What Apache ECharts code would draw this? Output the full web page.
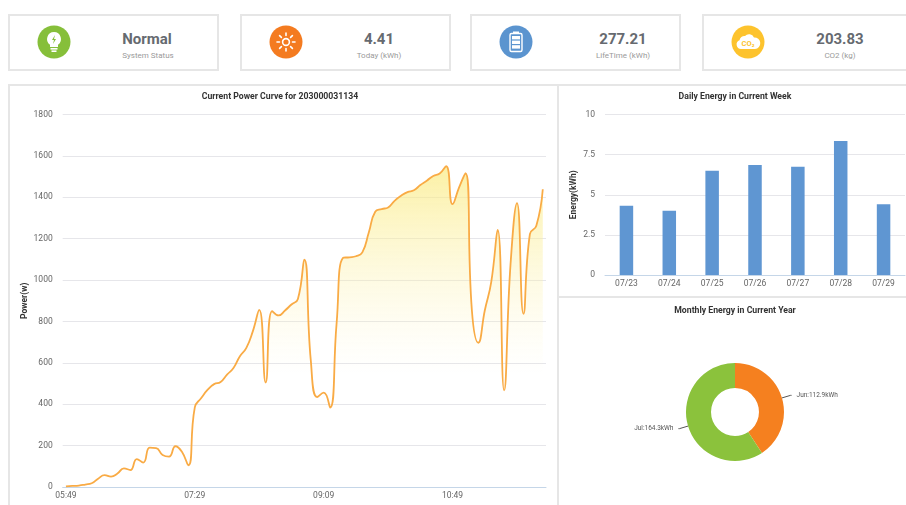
<!DOCTYPE html>
<html>
<head>
<meta charset="utf-8">
<title>Power</title>
<script src="https://cdn.jsdelivr.net/npm/echarts@6/dist/echarts.min.js"></script>
<style>
html, body { margin: 0; padding: 0; width: 906px; height: 505px; overflow: hidden; background: #fff; font-family: Roboto, sans-serif; }
.card { position: absolute; top: 14px; width: 207px; height: 53px; border: 2px solid #e6e6e6; }
.card svg { position: absolute; top: 9px; }
.card .val { position: absolute; top: 13px; width: 120px; text-align: center; font-size: 15px; line-height: 20px; font-weight: 700; color: #666a70; }
.card .sub { position: absolute; top: 33px; width: 120px; text-align: center; font-size: 8px; line-height: 14px; color: #9a9a9a; }
.line { position: absolute; background: #e6e6e6; }
.chart { position: absolute; }
</style>
</head>
<body>
<div class="card" style="left:8px">
	<svg width="34" height="34" style="left:27px" viewBox="0 0 34 34">
		<circle cx="17" cy="17" r="16.5" fill="#86bf3a"/>
		<path d="M17 7a7 7 0 0 0-4 12.7V22h8v-2.3A7 7 0 0 0 17 7z" fill="#fff"/>
		<path d="M18 10l-3 5h2l-1 4 3-5h-2z" fill="#86bf3a"/>
		<rect x="13.5" y="23" width="7" height="1.6" fill="#fff"/>
		<rect x="14.5" y="25.4" width="5" height="1.6" fill="#fff"/>
	</svg>
	<div class="val" style="left:77px">Normal</div>
	<div class="sub" style="left:78px">System Status</div>
</div>
<div class="card" style="left:240px">
	<svg width="34" height="34" style="left:27px" viewBox="0 0 34 34">
		<circle cx="17" cy="17" r="16.5" fill="#f47b20"/>
		<circle cx="17" cy="17" r="3.4" fill="none" stroke="#fff" stroke-width="1.6"/>
		<g stroke="#fff" stroke-width="1.6" stroke-linecap="round">
			<path d="M17 8v2.5M17 23.5V26M8 17h2.5M23.5 17H26M10.6 10.6l1.8 1.8M21.6 21.6l1.8 1.8M23.4 10.6l-1.8 1.8M12.4 21.6l-1.8 1.8"/>
		</g>
	</svg>
	<div class="val" style="left:77px">4.41</div>
	<div class="sub" style="left:77px">Today (kWh)</div>
</div>
<div class="card" style="left:470px">
	<svg width="34" height="34" style="left:27px" viewBox="0 0 34 34">
		<circle cx="17" cy="17" r="16.5" fill="#5b94cf"/>
		<rect x="11" y="8.5" width="12" height="18" rx="1.5" fill="none" stroke="#fff" stroke-width="1.4"/>
		<rect x="14" y="6.5" width="6" height="2" fill="#fff"/>
		<rect x="13" y="11" width="8" height="3.4" fill="#fff"/>
		<rect x="13" y="15.6" width="8" height="3.4" fill="#fff"/>
		<rect x="13" y="20.2" width="8" height="3.4" fill="#fff"/>
	</svg>
	<div class="val" style="left:91px">277.21</div>
	<div class="sub" style="left:91px">LifeTime (kWh)</div>
</div>
<div class="card" style="left:702px;width:210px">
	<svg width="34" height="34" style="left:27px" viewBox="0 0 34 34">
		<circle cx="17" cy="17" r="16.5" fill="#fdc32d"/>
		<path d="M10 24a4.5 4.5 0 0 1-1.500-8.700A5 5 0 0 1 14 11a5.500 5.500 0 0 1 9 1.500 5.500 5.500 0 0 1 1 11.500z" fill="#fff"/>
		<text x="17" y="20.500" text-anchor="middle" font-size="7.500" font-weight="700" fill="#fdc32d" font-family="Roboto">CO₂</text>
	</svg>
	<div class="val" style="left:76px">203.83</div>
	<div class="sub" style="left:76px">CO2 (kg)</div>
</div>

<div class="line" style="left:8px;top:84px;width:898px;height:2px"></div>
<div class="line" style="left:8px;top:84px;width:2px;height:421px"></div>
<div class="line" style="left:557px;top:84px;width:2px;height:421px"></div>
<div class="line" style="left:557px;top:296px;width:349px;height:2px"></div>

<div id="power-chart" class="chart" style="left:0;top:85px;width:557px;height:420px"></div>
<div id="daily-chart" class="chart" style="left:559px;top:85px;width:347px;height:211px"></div>
<div id="month-chart" class="chart" style="left:559px;top:298px;width:347px;height:207px"></div>

<script>
var powerTimes = ['05:49', '05:54', '05:59', '06:04', '06:09', '06:14', '06:19', '06:24', '06:29', '06:34',
	'06:39', '06:44', '06:49', '06:54', '06:59', '07:04', '07:09', '07:14', '07:19', '07:24',
	'07:29', '07:34', '07:39', '07:44', '07:49', '07:54', '07:59', '08:04', '08:09', '08:14',
	'08:19', '08:24', '08:29', '08:34', '08:39', '08:44', '08:49', '08:54', '08:59', '09:04',
	'09:09', '09:14', '09:19', '09:24', '09:29', '09:34', '09:39', '09:44', '09:49', '09:54',
	'09:59', '10:04', '10:09', '10:14', '10:19', '10:24', '10:29', '10:34', '10:39', '10:44',
	'10:49', '10:54', '10:59', '11:04', '11:09', '11:14', '11:19', '11:24', '11:29', '11:34',
	'11:39', '11:44', '11:49', '11:54', '11:59'];
var powerValues = [3, 5, 7, 12, 18, 40, 57, 50, 65, 90,
	82, 135, 118, 190, 188, 155, 147, 197, 170, 105,
	385, 430, 470, 497, 507, 543, 575, 632, 672, 752,
	856, 505, 850, 829, 853, 882, 909, 1099, 612, 435,
	456, 384, 789, 1107, 1110, 1115, 1134, 1230, 1330, 1343,
	1351, 1383, 1407, 1425, 1434, 1459, 1480, 1503, 1515, 1550,
	1367, 1447, 1516, 853, 697, 853, 990, 1242, 467, 1078,
	1372, 837, 1222, 1262, 1439];

var dailyDates = ['07/23', '07/24', '07/25', '07/26', '07/27', '07/28', '07/29'];
var dailyValues = [4.32, 4.0, 6.5, 6.85, 6.75, 8.35, 4.41];

var monthNames = ['Jun', 'Jul'];
var monthValues = [112.9, 164.3];
var monthColors = ['#f5801f', '#8bc23c'];

var fontName = 'Roboto';
var labelColor = '#666';
var gridColor = '#e6e6ea';
var axisColor = '#c5d6e8';

function plainNumber(value) {
	return String(value);
}

var powerChart = echarts.init(document.getElementById('power-chart'));
var poweroption = {
	animation: false,
	title: {
		text: 'Current Power Curve for 203000031134',
		left: 280,
		top: 7,
		padding: 0,
		textAlign: 'center',
		textStyle: { fontFamily: fontName, fontSize: 8.7, fontWeight: 'bold', color: '#333' }
	},
	grid: { left: 62.7, right: 11, top: 29.5, bottom: 18, outerBoundsMode: 'none' },
	xAxis: {
		type: 'category',
		data: powerTimes,
		boundaryGap: true,
		axisLine: { lineStyle: { color: axisColor } },
		axisTick: { alignWithLabel: true, interval: 19, length: 3, lineStyle: { color: axisColor } },
		axisLabel: { interval: 19, fontFamily: fontName, fontSize: 8.5, color: labelColor, margin: 4 }
	},
	yAxis: {
		type: 'value',
		min: 0,
		max: 1800,
		interval: 200,
		name: 'Power(w)',
		nameLocation: 'middle',
		nameGap: 33,
		nameMoveOverlap: false,
		nameTextStyle: { fontFamily: fontName, fontSize: 8.5, fontWeight: 'bold', color: '#333' },
		axisLine: { show: false },
		axisTick: { show: false },
		axisLabel: { formatter: plainNumber, fontFamily: fontName, fontSize: 8.5, color: labelColor, margin: 10 },
		splitLine: { lineStyle: { color: gridColor } }
	},
	series: [{
		name: 'Power',
		type: 'line',
		data: powerValues,
		smooth: 0.5,
		showSymbol: false,
		lineStyle: { color: '#f9ab45', width: 1.8 },
		areaStyle: {
			color: new echarts.graphic.LinearGradient(0, 0, 0, 1, [
				{ offset: 0, color: 'rgba(250,234,125,1)' },
				{ offset: 0.65, color: 'rgba(253,246,200,0)' }
			])
		}
	}]
};
powerChart.setOption(poweroption);

var dailyChart = echarts.init(document.getElementById('daily-chart'));
var dailyoption = {
	animation: false,
	title: {
		text: 'Daily Energy in Current Week',
		left: 176,
		top: 7,
		padding: 0,
		textAlign: 'center',
		textStyle: { fontFamily: fontName, fontSize: 8.7, fontWeight: 'bold', color: '#333' }
	},
	grid: { left: 46, right: 1, top: 29.5, bottom: 21, outerBoundsMode: 'none' },
	xAxis: {
		type: 'category',
		data: dailyDates,
		axisLine: { lineStyle: { color: axisColor } },
		axisTick: { length: 3, lineStyle: { color: axisColor } },
		axisLabel: { fontFamily: fontName, fontSize: 8.5, color: labelColor, margin: 4 }
	},
	yAxis: {
		type: 'value',
		min: 0,
		max: 10,
		interval: 2.5,
		name: 'Energy(kWh)',
		nameLocation: 'middle',
		nameGap: 27,
		nameMoveOverlap: false,
		nameTextStyle: { fontFamily: fontName, fontSize: 8.5, fontWeight: 'bold', color: '#333' },
		axisLine: { show: false },
		axisTick: { show: false },
		axisLabel: { fontFamily: fontName, fontSize: 8.5, color: labelColor, margin: 10 },
		splitLine: { lineStyle: { color: gridColor } }
	},
	series: [{
		name: 'Energy',
		type: 'bar',
		data: dailyValues,
		barWidth: 13.5,
		itemStyle: { color: '#5f96d2' }
	}]
};
dailyChart.setOption(dailyoption);

var monthChart = echarts.init(document.getElementById('month-chart'));
var monthoption = {
	animation: false,
	color: monthColors,
	title: {
		text: 'Monthly Energy in Current Year',
		left: 176,
		top: 8,
		padding: 0,
		textAlign: 'center',
		textStyle: { fontFamily: fontName, fontSize: 8.7, fontWeight: 'bold', color: '#333' }
	},
	series: [{
		name: 'Energy',
		type: 'pie',
		radius: [24, 49],
		center: [176, 114],
		startAngle: 90,
		clockwise: true,
		data: monthNames.map(function (name, i) {
			return { name: name, value: monthValues[i] };
		}),
		label: {
			formatter: '{b}:{c}kWh',
			fontFamily: fontName,
			fontSize: 6.5,
			color: '#555'
		},
		labelLine: { length: 9, length2: 1, lineStyle: { color: '#555', width: 1 } }
	}]
};
monthChart.setOption(monthoption);
</script>
</body>
</html>
